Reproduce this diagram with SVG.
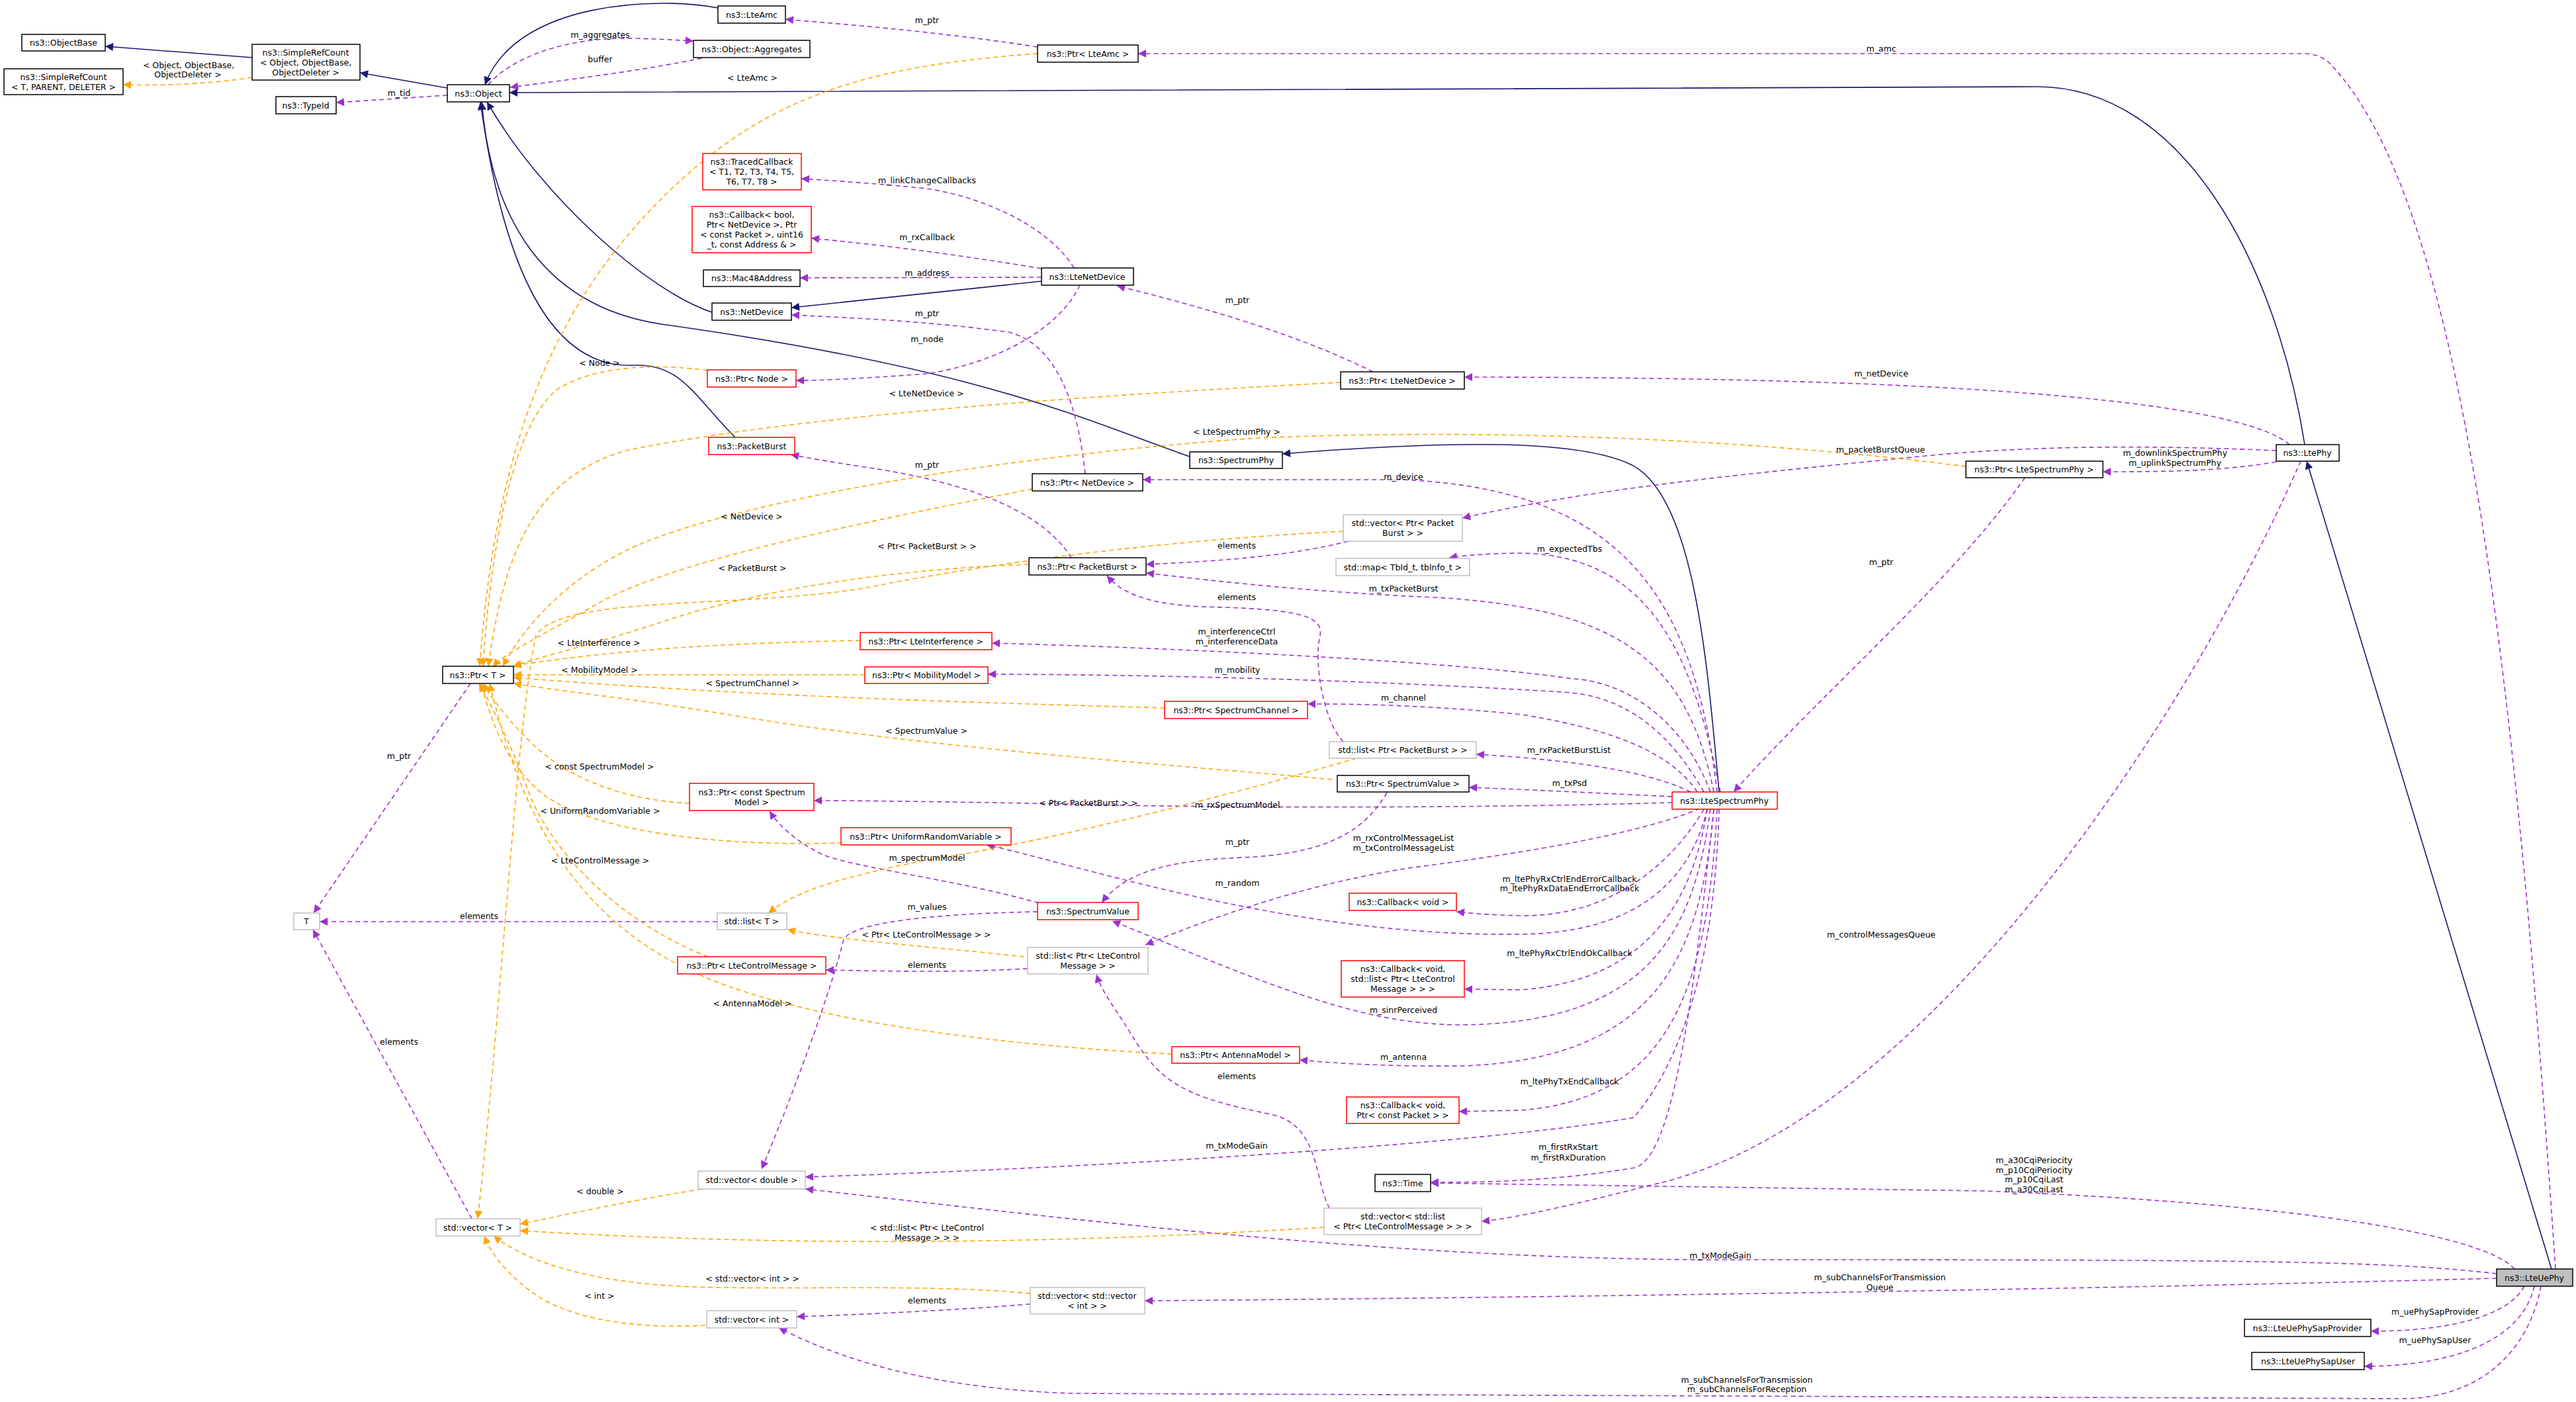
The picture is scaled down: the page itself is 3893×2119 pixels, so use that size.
<svg xmlns="http://www.w3.org/2000/svg" width="3893" height="2119" viewBox="0 0 3893 2119">
<style>
text{font-family:"DejaVu Sans","Liberation Sans",sans-serif;font-size:12.5px;fill:#000;text-anchor:middle;dominant-baseline:central}
rect{fill:#fff;stroke-width:1.5}
.b rect{stroke:#000}
.r rect{stroke:#ff0000}
.g rect{stroke:#bfbfbf}
.cur rect{fill:#bfbfbf;stroke:#000}
path{fill:none;stroke-width:1.6}
.inh{stroke:#191970;marker-end:url(#ai)}
.use{stroke:#9a32cd;stroke-dasharray:7,5;marker-end:url(#au)}
.tpl{stroke:#ffa500;stroke-dasharray:7,5;marker-end:url(#at)}
</style>
<defs>
<marker id="ai" viewBox="0 0 10 10" refX="10" refY="5" markerUnits="userSpaceOnUse" markerWidth="14" markerHeight="12" orient="auto"><path d="M0,0L10,5L0,10z" style="fill:#191970;stroke:none"/></marker>
<marker id="au" viewBox="0 0 10 10" refX="10" refY="5" markerUnits="userSpaceOnUse" markerWidth="14" markerHeight="12" orient="auto"><path d="M0,0L10,5L0,10z" style="fill:#9a32cd;stroke:none"/></marker>
<marker id="at" viewBox="0 0 10 10" refX="10" refY="5" markerUnits="userSpaceOnUse" markerWidth="14" markerHeight="12" orient="auto"><path d="M0,0L10,5L0,10z" style="fill:#ffa500;stroke:none"/></marker>
</defs>
<rect x="0" y="0" width="3893" height="2119" style="fill:#fff;stroke:none"/>
<g id="connectors">
<path class="inh" d="M381,87L159,70"/>
<path class="inh" d="M676,133L544,110"/>
<path class="inh" d="M1085,12C1000,-5 780,0 733,128"/>
<path class="inh" d="M1076,472C980,440 820,300 736,154"/>
<path class="inh" d="M1798,690C1650,640 1500,560 1000,490C800,460 740,300 728,154"/>
<path class="inh" d="M1111,661C1050,600 1030,550 960,552C830,560 760,400 726,154"/>
<path class="inh" d="M1574,425L1196,465"/>
<path class="inh" d="M3483,672C3440,400 3300,131 3078,131L770,140"/>
<path class="inh" d="M2598,1197C2580,1000 2560,740 2460,700C2380,665 2200,665 1938,686"/>
<path class="inh" d="M3856,1918L3486,697"/>

<path class="use" d="M3862,1918C3800,1000 3720,300 3520,95Q3505,81 3480,81L1720,81"/>
<path class="use" d="M3477,697C3300,1100 2900,1700 2500,1790C2400,1815 2300,1840 2239,1846"/>
<path class="use" d="M3800,1918C3760,1870 3500,1820 3000,1800L2162,1788"/>
<path class="use" d="M2590,1223C2560,1500 2530,1750 2470,1765C2350,1785 2250,1787 2162,1787"/>
<path class="use" d="M3773,1925C3600,1905 3400,1904 2600,1904C2100,1904 1600,1840 1217,1797"/>
<path class="use" d="M3773,1932C3300,1945 2500,1960 1730,1966"/>
<path class="use" d="M3840,1944C3820,2050 3740,2114 3630,2114L1620,2106C1450,2100 1300,2070 1177,2007"/>
<path class="use" d="M3815,1944C3790,1990 3700,2012 3583,2012"/>
<path class="use" d="M3830,1944C3810,2030 3700,2065 3573,2065"/>
<path class="use" d="M3460,672C3400,620 3100,570 2213,570"/>
<path class="use" d="M3440,698C3360,712 3280,713 3178,713"/>
<path class="use" d="M3440,681C3300,675 3100,670 2900,690C2600,720 2400,740 2210,783"/>
<path class="use" d="M3060,722C2950,880 2750,1050 2620,1197"/>
<path class="use" d="M2595,1197C2560,900 2450,740 2121,725L1727,725"/>
<path class="use" d="M2600,1197C2560,1000 2500,840 2300,836C2250,836 2210,840 2190,843"/>
<path class="use" d="M2590,1197C2550,1000 2450,920 2171,903C2000,896 1850,880 1732,866"/>
<path class="use" d="M2585,1197C2540,1080 2450,1030 2378,1026C2200,1000 1800,980 1499,972"/>
<path class="use" d="M2575,1197C2520,1100 2450,1050 2361,1046C2100,1030 1800,1020 1493,1019"/>
<path class="use" d="M2565,1197C2520,1130 2420,1100 2300,1080C2150,1065 2050,1064 1976,1064"/>
<path class="use" d="M2555,1197C2500,1170 2400,1150 2231,1140"/>
<path class="use" d="M2527,1204C2400,1198 2300,1193 2220,1190"/>
<path class="use" d="M2527,1213C2300,1220 1900,1223 1600,1215C1450,1212 1300,1210 1230,1210"/>
<path class="use" d="M2580,1223C2550,1350 2450,1410 2300,1412C2100,1415 1900,1380 1700,1330C1600,1305 1530,1285 1491,1277"/>
<path class="use" d="M2585,1223C2560,1400 2500,1545 2212,1549C2050,1550 1900,1480 1681,1392"/>
<path class="use" d="M2096,1198C2060,1260 2000,1290 1880,1296C1760,1300 1700,1320 1665,1364"/>
<path class="use" d="M2569,1222C2480,1260 2300,1290 2129,1312C1950,1340 1800,1400 1731,1428"/>
<path class="use" d="M2575,1223C2530,1300 2440,1385 2300,1384C2250,1383 2220,1380 2201,1378"/>
<path class="use" d="M2580,1223C2560,1350 2500,1480 2300,1496L2213,1495"/>
<path class="use" d="M2590,1223C2570,1450 2500,1600 2212,1611C2100,1612 2030,1608 1964,1602"/>
<path class="use" d="M2595,1223C2580,1500 2520,1660 2300,1678L2205,1680"/>
<path class="use" d="M2598,1223C2590,1500 2520,1630 2469,1689C2300,1720 1800,1760 1217,1779"/>
<path class="use" d="M2030,1121C2000,1090 1985,1000 1995,960C2000,930 1960,920 1814,917C1720,912 1690,890 1673,870"/>
<path class="use" d="M2038,818C1950,840 1850,848 1732,853"/>
<path class="use" d="M2009,1826C1985,1780 1995,1700 1920,1684C1800,1660 1760,1640 1720,1580C1690,1530 1665,1500 1657,1473"/>
<path class="use" d="M1553,1464C1450,1470 1350,1468 1248,1466"/>
<path class="use" d="M1557,1971C1450,1980 1300,1987 1204,1990"/>
<path class="use" d="M1568,1378C1450,1380 1290,1390 1275,1420C1255,1500 1200,1650 1151,1767"/>
<path class="use" d="M1570,1365C1450,1330 1280,1310 1240,1290C1200,1270 1175,1245 1163,1226"/>
<path class="use" d="M711,1033L474,1380"/>
<path class="use" d="M713,1842L473,1405"/>
<path class="use" d="M1084,1393L483,1393"/>
<path class="use" d="M1568,71C1400,45 1250,35 1187,29"/>
<path class="use" d="M738,128C770,90 850,55 960,58C1000,59 1030,61 1048,62"/>
<path class="use" d="M1061,88C950,110 860,120 771,132"/>
<path class="use" d="M676,144L508,155"/>
<path class="use" d="M1623,405C1590,350 1500,300 1400,285C1300,275 1240,272 1211,270"/>
<path class="use" d="M1574,406C1450,385 1330,370 1226,360"/>
<path class="use" d="M1574,419L1209,420"/>
<path class="use" d="M1640,716C1630,620 1600,520 1524,502C1400,485 1280,480 1196,476"/>
<path class="use" d="M1632,431C1600,500 1500,550 1400,565C1300,572 1250,575 1203,575"/>
<path class="use" d="M2075,562C1950,500 1800,460 1688,432"/>
<path class="use" d="M1619,843C1580,780 1480,730 1300,705C1250,697 1220,692 1195,687"/>

<path class="tpl" d="M381,117C330,125 260,130 186,128"/>
<path class="tpl" d="M1568,81C1300,100 1150,150 1000,300C850,450 750,650 725,1007"/>
<path class="tpl" d="M1069,560C1000,550 900,550 840,590C770,650 740,850 730,1007"/>
<path class="tpl" d="M1560,739C1300,790 1000,850 890,920C800,970 760,990 745,1008"/>
<path class="tpl" d="M2026,578C1600,600 1200,630 950,680C800,720 760,850 738,1007"/>
<path class="tpl" d="M2971,705C2700,670 2300,645 1900,662C1500,690 1100,760 950,830C850,880 790,950 760,1007"/>
<path class="tpl" d="M2030,803C1700,820 1450,860 1300,890C1100,920 850,900 810,960C780,1100 760,1500 722,1842"/>
<path class="tpl" d="M1555,853C1350,860 1150,890 1000,940C880,980 820,990 775,1008"/>
<path class="tpl" d="M1300,968C1100,972 950,980 776,1006"/>
<path class="tpl" d="M1307,1020L776,1020"/>
<path class="tpl" d="M1760,1070C1400,1060 1100,1050 776,1024"/>
<path class="tpl" d="M2013,1178C1700,1150 1400,1130 1100,1080C950,1055 850,1045 776,1033"/>
<path class="tpl" d="M1042,1214C950,1210 860,1180 800,1120C760,1080 740,1050 730,1033"/>
<path class="tpl" d="M1273,1274C1100,1280 900,1260 820,1200C760,1150 740,1080 727,1033"/>
<path class="tpl" d="M1070,1446C950,1400 840,1300 800,1200C770,1120 745,1070 724,1033"/>
<path class="tpl" d="M1771,1593C1500,1580 1200,1540 1050,1470C850,1380 780,1200 740,1033"/>
<path class="tpl" d="M2050,1146C1900,1190 1600,1270 1400,1300C1250,1330 1200,1350 1161,1380"/>
<path class="tpl" d="M1548,1446C1400,1430 1260,1420 1190,1405"/>
<path class="tpl" d="M1061,1797C950,1815 860,1835 786,1850"/>
<path class="tpl" d="M2001,1855C1600,1880 1200,1885 786,1860"/>
<path class="tpl" d="M1557,1955C1400,1940 1200,1950 1050,1945C900,1940 800,1910 746,1868"/>
<path class="tpl" d="M1066,2003C950,2010 850,1990 800,1950C760,1920 740,1890 732,1868"/>

<text x="285" y="98">&lt; Object, ObjectBase,</text>
<text x="284" y="112">ObjectDeleter &gt;</text>
<text x="603" y="140">m_tid</text>
<text x="907" y="52">m_aggregates</text>
<text x="907" y="89">buffer</text>
<text x="1137" y="117">&lt; LteAmc &gt;</text>
<text x="906" y="548">&lt; Node &gt;</text>
<text x="1136" y="780">&lt; NetDevice &gt;</text>
<text x="1137" y="858">&lt; PacketBurst &gt;</text>
<text x="905" y="971">&lt; LteInterference &gt;</text>
<text x="906" y="1012">&lt; MobilityModel &gt;</text>
<text x="1137" y="1032">&lt; SpectrumChannel &gt;</text>
<text x="603" y="1142">m_ptr</text>
<text x="906" y="1158">&lt; const SpectrumModel &gt;</text>
<text x="907" y="1225">&lt; UniformRandomVariable &gt;</text>
<text x="907" y="1300">&lt; LteControlMessage &gt;</text>
<text x="724" y="1384">elements</text>
<text x="603" y="1574">elements</text>
<text x="1137" y="1516">&lt; AntennaModel &gt;</text>
<text x="907" y="1800">&lt; double &gt;</text>
<text x="1137" y="1932">&lt; std::vector&lt; int &gt; &gt;</text>
<text x="906" y="1958">&lt; int &gt;</text>
<text x="1401" y="30">m_ptr</text>
<text x="1401" y="272">m_linkChangeCallbacks</text>
<text x="1401" y="358">m_rxCallback</text>
<text x="1401" y="412">m_address</text>
<text x="1401" y="473">m_ptr</text>
<text x="1401" y="512">m_node</text>
<text x="1400" y="594">&lt; LteNetDevice &gt;</text>
<text x="1870" y="453">m_ptr</text>
<text x="1869" y="652">&lt; LteSpectrumPhy &gt;</text>
<text x="2843" y="73">m_amc</text>
<text x="2843" y="564">m_netDevice</text>
<text x="1401" y="702">m_ptr</text>
<text x="2121" y="720">m_device</text>
<text x="1401" y="825">&lt; Ptr&lt; PacketBurst &gt; &gt;</text>
<text x="1869" y="824">elements</text>
<text x="2372" y="829">m_expectedTbs</text>
<text x="2121" y="889">m_txPacketBurst</text>
<text x="1869" y="902">elements</text>
<text x="1869" y="954">m_interferenceCtrl</text>
<text x="1869" y="969">m_interferenceData</text>
<text x="1870" y="1012">m_mobility</text>
<text x="2121" y="1054">m_channel</text>
<text x="1400" y="1104">&lt; SpectrumValue &gt;</text>
<text x="2371" y="1133">m_rxPacketBurstList</text>
<text x="2372" y="1183">m_txPsd</text>
<text x="1645" y="1213">&lt; Ptr&lt; PacketBurst &gt; &gt;</text>
<text x="1870" y="1216">m_rxSpectrumModel</text>
<text x="2121" y="1266">m_rxControlMessageList</text>
<text x="2121" y="1281">m_txControlMessageList</text>
<text x="1870" y="1272">m_ptr</text>
<text x="1401" y="1296">m_spectrumModel</text>
<text x="1870" y="1334">m_random</text>
<text x="2372" y="1328">m_ltePhyRxCtrlEndErrorCallback</text>
<text x="2372" y="1342">m_ltePhyRxDataEndErrorCallback</text>
<text x="1401" y="1370">m_values</text>
<text x="1400" y="1412">&lt; Ptr&lt; LteControlMessage &gt; &gt;</text>
<text x="1401" y="1458">elements</text>
<text x="2372" y="1440">m_ltePhyRxCtrlEndOkCallback</text>
<text x="2121" y="1526">m_sinrPerceived</text>
<text x="2121" y="1597">m_antenna</text>
<text x="1869" y="1626">elements</text>
<text x="2372" y="1634">m_ltePhyTxEndCallback</text>
<text x="1869" y="1731">m_txModeGain</text>
<text x="2370" y="1733">m_firstRxStart</text>
<text x="2370" y="1749">m_firstRxDuration</text>
<text x="1401" y="1855">&lt; std::list&lt; Ptr&lt; LteControl</text>
<text x="1401" y="1870">Message &gt; &gt; &gt;</text>
<text x="1401" y="1965">elements</text>
<text x="2843" y="849">m_ptr</text>
<text x="2843" y="1412">m_controlMessagesQueue</text>
<text x="2842" y="679">m_packetBurstQueue</text>
<text x="3287" y="684">m_downlinkSpectrumPhy</text>
<text x="3287" y="699">m_uplinkSpectrumPhy</text>
<text x="3074" y="1753">m_a30CqiPeriocity</text>
<text x="3074" y="1768">m_p10CqiPeriocity</text>
<text x="3074" y="1782">m_p10CqiLast</text>
<text x="3074" y="1797">m_a30CqiLast</text>
<text x="2600" y="1897">m_txModeGain</text>
<text x="2841" y="1930">m_subChannelsForTransmission</text>
<text x="2841" y="1945">Queue</text>
<text x="3680" y="1982">m_uePhySapProvider</text>
<text x="3680" y="2025">m_uePhySapUser</text>
<text x="2640" y="2085">m_subChannelsForTransmission</text>
<text x="2640" y="2099">m_subChannelsForReception</text>
</g>

<g id="n_ObjectBase" class="b"><rect x="33" y="52" width="126" height="25"/><text x="96" y="64.5">ns3::ObjectBase</text></g>
<g id="n_SRC_T" class="b"><rect x="6" y="104" width="180" height="39"/><text x="96" y="116">ns3::SimpleRefCount</text><text x="96" y="131">&lt; T, PARENT, DELETER &gt;</text></g>
<g id="n_SRC_Object" class="b"><rect x="381" y="67" width="163" height="54"/><text x="462" y="79">ns3::SimpleRefCount</text><text x="462" y="94">&lt; Object, ObjectBase,</text><text x="462" y="109">ObjectDeleter &gt;</text></g>
<g id="n_TypeId" class="b"><rect x="417" y="146" width="91" height="26"/><text x="462" y="159">ns3::TypeId</text></g>
<g id="n_Object" class="b"><rect x="676" y="128" width="94" height="26"/><text x="723" y="141">ns3::Object</text></g>
<g id="n_LteAmc" class="b"><rect x="1085" y="9" width="102" height="26"/><text x="1136" y="22">ns3::LteAmc</text></g>
<g id="n_Aggregates" class="b"><rect x="1048" y="61" width="176" height="26"/><text x="1136" y="74">ns3::Object::Aggregates</text></g>
<g id="n_TracedCallback" class="r"><rect x="1062" y="232" width="149" height="55"/><text x="1136" y="244">ns3::TracedCallback</text><text x="1136" y="259">&lt; T1, T2, T3, T4, T5,</text><text x="1136" y="274">T6, T7, T8 &gt;</text></g>
<g id="n_CallbackBool" class="r"><rect x="1046" y="312" width="180" height="70"/><text x="1136" y="324">ns3::Callback&lt; bool,</text><text x="1136" y="339">Ptr&lt; NetDevice &gt;, Ptr</text><text x="1136" y="354">&lt; const Packet &gt;, uint16</text><text x="1136" y="369">_t, const Address &amp; &gt;</text></g>
<g id="n_Mac48" class="b"><rect x="1063" y="408" width="146" height="25"/><text x="1136" y="420.5">ns3::Mac48Address</text></g>
<g id="n_NetDevice" class="b"><rect x="1076" y="458" width="120" height="26"/><text x="1136" y="471">ns3::NetDevice</text></g>
<g id="n_PtrNode" class="r"><rect x="1069" y="559" width="134" height="26"/><text x="1136" y="572">ns3::Ptr&lt; Node &gt;</text></g>
<g id="n_PacketBurst" class="r"><rect x="1071" y="661" width="130" height="26"/><text x="1136" y="674">ns3::PacketBurst</text></g>
<g id="n_PtrT" class="b"><rect x="669" y="1007" width="107" height="26"/><text x="722" y="1020">ns3::Ptr&lt; T &gt;</text></g>
<g id="n_PtrConstSpectrumModel" class="r"><rect x="1042" y="1184" width="188" height="41"/><text x="1136" y="1197">ns3::Ptr&lt; const Spectrum</text><text x="1136" y="1212">Model &gt;</text></g>
<g id="n_T" class="g"><rect x="444" y="1380" width="39" height="25"/><text x="463" y="1392.5">T</text></g>
<g id="n_ListT" class="g"><rect x="1084" y="1380" width="105" height="25"/><text x="1136" y="1392.5">std::list&lt; T &gt;</text></g>
<g id="n_PtrLteControlMessage" class="r"><rect x="1024" y="1446" width="224" height="26"/><text x="1136" y="1459">ns3::Ptr&lt; LteControlMessage &gt;</text></g>
<g id="n_VectorDouble" class="g"><rect x="1055" y="1770" width="162" height="27"/><text x="1136" y="1783.5">std::vector&lt; double &gt;</text></g>
<g id="n_VectorT" class="g"><rect x="659" y="1842" width="127" height="26"/><text x="722" y="1855">std::vector&lt; T &gt;</text></g>
<g id="n_VectorInt" class="g"><rect x="1068" y="1981" width="136" height="26"/><text x="1136" y="1994">std::vector&lt; int &gt;</text></g>
<g id="n_PtrLteAmc" class="b"><rect x="1568" y="68" width="152" height="26"/><text x="1644" y="81">ns3::Ptr&lt; LteAmc &gt;</text></g>
<g id="n_LteNetDevice" class="b"><rect x="1574" y="405" width="139" height="26"/><text x="1643" y="418">ns3::LteNetDevice</text></g>
<g id="n_PtrLteNetDevice" class="b"><rect x="2026" y="562" width="187" height="26"/><text x="2119" y="575">ns3::Ptr&lt; LteNetDevice &gt;</text></g>
<g id="n_SpectrumPhy" class="b"><rect x="1798" y="683" width="140" height="25"/><text x="1868" y="695.5">ns3::SpectrumPhy</text></g>
<g id="n_PtrNetDevice" class="b"><rect x="1560" y="716" width="167" height="26"/><text x="1643" y="729">ns3::Ptr&lt; NetDevice &gt;</text></g>
<g id="n_VectorPtrPacketBurst" class="g"><rect x="2030" y="778" width="180" height="40"/><text x="2120" y="790">std::vector&lt; Ptr&lt; Packet</text><text x="2120" y="805">Burst &gt; &gt;</text></g>
<g id="n_PtrPacketBurst" class="b"><rect x="1555" y="843" width="177" height="26"/><text x="1643" y="856">ns3::Ptr&lt; PacketBurst &gt;</text></g>
<g id="n_MapTbId" class="g"><rect x="2019" y="844" width="202" height="26"/><text x="2120" y="857">std::map&lt; TbId_t, tbInfo_t &gt;</text></g>
<g id="n_PtrLteInterference" class="r"><rect x="1300" y="956" width="199" height="26"/><text x="1399" y="969">ns3::Ptr&lt; LteInterference &gt;</text></g>
<g id="n_PtrMobilityModel" class="r"><rect x="1307" y="1008" width="186" height="25"/><text x="1400" y="1020.5">ns3::Ptr&lt; MobilityModel &gt;</text></g>
<g id="n_PtrSpectrumChannel" class="r"><rect x="1760" y="1060" width="216" height="26"/><text x="1868" y="1073">ns3::Ptr&lt; SpectrumChannel &gt;</text></g>
<g id="n_ListPtrPacketBurst" class="g"><rect x="2009" y="1121" width="222" height="25"/><text x="2120" y="1133.5">std::list&lt; Ptr&lt; PacketBurst &gt; &gt;</text></g>
<g id="n_PtrSpectrumValue" class="b"><rect x="2021" y="1172" width="199" height="25"/><text x="2120" y="1184.5">ns3::Ptr&lt; SpectrumValue &gt;</text></g>
<g id="n_PtrURV" class="r"><rect x="1271" y="1251" width="257" height="26"/><text x="1399" y="1264">ns3::Ptr&lt; UniformRandomVariable &gt;</text></g>
<g id="n_CallbackVoid" class="r"><rect x="2039" y="1350" width="162" height="26"/><text x="2120" y="1363">ns3::Callback&lt; void &gt;</text></g>
<g id="n_SpectrumValue" class="r"><rect x="1568" y="1364" width="152" height="26"/><text x="1644" y="1377">ns3::SpectrumValue</text></g>
<g id="n_ListPtrLteControlMessage" class="g"><rect x="1553" y="1432" width="182" height="40"/><text x="1644" y="1444">std::list&lt; Ptr&lt; LteControl</text><text x="1644" y="1459">Message &gt; &gt;</text></g>
<g id="n_CallbackVoidList" class="r"><rect x="2027" y="1452" width="186" height="55"/><text x="2120" y="1464">ns3::Callback&lt; void,</text><text x="2120" y="1479">std::list&lt; Ptr&lt; LteControl</text><text x="2120" y="1494">Message &gt; &gt; &gt;</text></g>
<g id="n_PtrAntennaModel" class="r"><rect x="1771" y="1582" width="193" height="25"/><text x="1867" y="1594.5">ns3::Ptr&lt; AntennaModel &gt;</text></g>
<g id="n_CallbackVoidPacket" class="r"><rect x="2035" y="1658" width="170" height="40"/><text x="2120" y="1670">ns3::Callback&lt; void,</text><text x="2120" y="1685">Ptr&lt; const Packet &gt; &gt;</text></g>
<g id="n_Time" class="b"><rect x="2078" y="1775" width="84" height="26"/><text x="2120" y="1788">ns3::Time</text></g>
<g id="n_VectorListPtrLteControlMessage" class="g"><rect x="2001" y="1826" width="238" height="40"/><text x="2120" y="1838">std::vector&lt; std::list</text><text x="2120" y="1853">&lt; Ptr&lt; LteControlMessage &gt; &gt; &gt;</text></g>
<g id="n_VectorVectorInt" class="g"><rect x="1557" y="1946" width="173" height="40"/><text x="1643" y="1958">std::vector&lt; std::vector</text><text x="1643" y="1973">&lt; int &gt; &gt;</text></g>
<g id="n_LteSpectrumPhy" class="r"><rect x="2527" y="1197" width="159" height="26"/><text x="2606" y="1210">ns3::LteSpectrumPhy</text></g>
<g id="n_PtrLteSpectrumPhy" class="b"><rect x="2971" y="697" width="207" height="25"/><text x="3074" y="709.5">ns3::Ptr&lt; LteSpectrumPhy &gt;</text></g>
<g id="n_LtePhy" class="b"><rect x="3440" y="672" width="95" height="25"/><text x="3487" y="684.5">ns3::LtePhy</text></g>
<g id="n_LteUePhy" class="cur"><rect x="3773" y="1918" width="115" height="26"/><text x="3830" y="1931">ns3::LteUePhy</text></g>
<g id="n_LteUePhySapProvider" class="b"><rect x="3392" y="1994" width="191" height="26"/><text x="3487" y="2007">ns3::LteUePhySapProvider</text></g>
<g id="n_LteUePhySapUser" class="b"><rect x="3403" y="2044" width="170" height="26"/><text x="3488" y="2057">ns3::LteUePhySapUser</text></g>
</svg>
